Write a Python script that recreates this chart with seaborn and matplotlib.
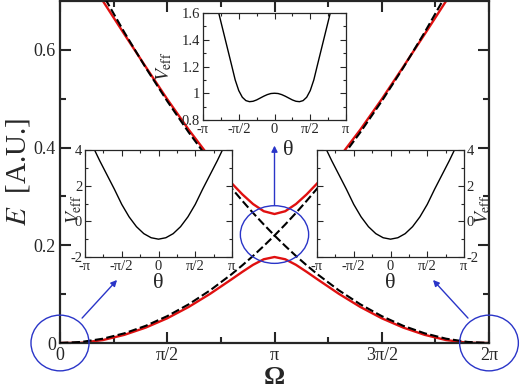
import numpy as np
import matplotlib
matplotlib.use("Agg")
import matplotlib.pyplot as plt
import seaborn as sns
from matplotlib.patches import Ellipse

# ---------------- data ----------------
# main panel: Omega in units of pi
omega_pi = [0.0, 0.1, 0.2, 0.3, 0.4, 0.5, 0.6, 0.7, 0.8, 0.85, 0.9, 0.95, 1.0,
            1.05, 1.1, 1.15, 1.2, 1.3, 1.4, 1.5, 1.6, 1.7, 1.8, 1.9, 2.0]
dash_rise = [0.0, 0.0022, 0.0088, 0.0198, 0.0352, 0.055, 0.0792, 0.1078, 0.1408, 0.159,
             0.1782, 0.1986, 0.22, 0.2426, 0.2662, 0.291, 0.3168, 0.3718, 0.4312, 0.495,
             0.5632, 0.6358, 0.7128, 0.7942, 0.88]
dash_fall = [0.88, 0.7942, 0.7128, 0.6358, 0.5632, 0.495, 0.4312, 0.3718, 0.3168, 0.291,
             0.2662, 0.2426, 0.22, 0.1986, 0.1782, 0.159, 0.1408, 0.1078, 0.0792, 0.055,
             0.0352, 0.0198, 0.0088, 0.0022, 0.0]
red_lower = [0.0, 0.0005, 0.006, 0.0167, 0.0316, 0.0506, 0.0738, 0.1007, 0.1304, 0.1456,
             0.16, 0.1714, 0.176, 0.1714, 0.16, 0.1456, 0.1304, 0.1007, 0.0738, 0.0506,
             0.0316, 0.0167, 0.006, 0.0005, 0.0]
red_upper = [0.85, 0.775, 0.70, 0.632, 0.565, 0.499, 0.4366, 0.3789, 0.3272, 0.3043,
             0.2844, 0.2697, 0.264, 0.2697, 0.2844, 0.3043, 0.3272, 0.3789, 0.4366, 0.499,
             0.565, 0.632, 0.70, 0.775, 0.85]

# top inset: double well, theta in units of pi
theta_dw = [-0.78, -0.72, -0.66, -0.6, -0.55, -0.5, -0.45, -0.4, -0.35, -0.3, -0.25,
            -0.2, -0.15, -0.1, -0.05, 0.0, 0.05, 0.1, 0.15, 0.2, 0.25, 0.3, 0.35, 0.4,
            0.45, 0.5, 0.55, 0.6, 0.66, 0.72, 0.78]
v_dw = [1.60, 1.47, 1.34, 1.21, 1.10, 1.02, 0.97, 0.945, 0.937, 0.94, 0.95,
        0.964, 0.978, 0.99, 0.998, 1.0, 0.998, 0.99, 0.978, 0.964, 0.95, 0.94, 0.937, 0.945,
        0.97, 1.02, 1.10, 1.21, 1.34, 1.47, 1.60]

# side insets: single well, theta in units of pi
theta_sw = [-0.87, -0.8, -0.7, -0.6, -0.5, -0.4, -0.3, -0.2, -0.1, 0.0,
            0.1, 0.2, 0.3, 0.4, 0.5, 0.6, 0.7, 0.8, 0.87]
v_sw = [4.0, 3.4, 2.6, 1.8, 0.95, 0.25, -0.30, -0.69, -0.92, -1.0,
        -0.92, -0.69, -0.30, 0.25, 0.95, 1.8, 2.6, 3.4, 4.0]

main_xticklabels = ["0", "π/2", "π", "3π/2", "2π"]
main_yticklabels = ["0", "0.2", "0.4", "0.6"]
inset_xticklabels = ["-π", "-π/2", "0", "π/2", "π"]
dw_yticklabels = ["0.8", "1", "1.2", "1.4", "1.6"]
sw_yticklabels = ["-2", "0", "2", "4"]

# ---------------- style ----------------
sns.set_style("ticks")
plt.rcParams["font.family"] = ["Liberation Serif", "DejaVu Serif"]
plt.rcParams["mathtext.fontset"] = "stix"

PI = np.pi
om = np.array(omega_pi) * PI

fig = plt.figure(figsize=(5.2, 3.9), dpi=100)
ax = fig.add_axes([60 / 520, 1 - 343 / 390, 429 / 520, 342 / 390])

sns.lineplot(x=om, y=dash_rise, ax=ax, color="black", lw=1.5,
             linestyle=(0, (4, 1.6)), sort=False, zorder=3)
sns.lineplot(x=om, y=dash_fall, ax=ax, color="black", lw=1.5,
             linestyle=(0, (4, 1.6)), sort=False, zorder=3)
sns.lineplot(x=om, y=red_lower, ax=ax, color="#e01010", lw=1.7, sort=False, zorder=2)
sns.lineplot(x=om, y=red_upper, ax=ax, color="#e01010", lw=1.7, sort=False, zorder=2)

ax.set_xlim(0, 2 * PI)
ax.set_ylim(0, 0.7)
ax.set_xticks([0, PI / 2, PI, 3 * PI / 2, 2 * PI])
ax.set_xticklabels(main_xticklabels)
ax.set_xticks(np.arange(1, 8, 2) * PI / 4, minor=True)
ax.set_yticks([0, 0.2, 0.4, 0.6])
ax.set_yticklabels(main_yticklabels)
ax.set_yticks([0.1, 0.3, 0.5], minor=True)
ax.tick_params(which="both", direction="in", top=True, right=True,
               labelsize=13, width=1.5, pad=3)
ax.tick_params(which="major", length=8)
ax.tick_params(which="minor", length=4.5)
for s in ax.spines.values():
    s.set_linewidth(1.6)
ax.set_xlabel("Ω", fontsize=19, fontweight="bold", va="baseline")
ax.xaxis.set_label_coords(0.5, -0.12)
ax.set_ylabel(r"$E$  [A.U.]", fontsize=21)
ax.yaxis.set_label_coords(-0.066, 0.5)

# blue circles and arrows
blue = "#2a35c8"
for (cx, cy, w, h) in [(0.0, 0.0, 0.85, 0.114), (PI, 0.222, 1.0, 0.118),
                       (2 * PI, 0.0, 0.86, 0.114)]:
    ax.add_patch(Ellipse((cx, cy), w, h, fill=False, ec=blue, lw=1.0,
                         clip_on=False, zorder=5))
arrow_kw = dict(arrowstyle="-|>", color=blue, lw=1.0, mutation_scale=9,
                shrinkA=0, shrinkB=0)
ax.annotate("", xy=(0.266 * PI, 0.129), xytext=(0.103 * PI, 0.051),
            arrowprops=arrow_kw, annotation_clip=False)
ax.annotate("", xy=(PI, 0.404), xytext=(PI, 0.282),
            arrowprops=arrow_kw, annotation_clip=False)
ax.annotate("", xy=(1.739 * PI, 0.129), xytext=(1.902 * PI, 0.051),
            arrowprops=arrow_kw, annotation_clip=False)


def style_inset(a, ylim, yticks, yminor, ylabels):
    a.set_xlim(-PI, PI)
    a.set_ylim(*ylim)
    a.set_xticks([-PI, -PI / 2, 0, PI / 2, PI])
    a.set_xticklabels(inset_xticklabels)
    a.set_xticks(np.array([-3, -1, 1, 3]) * PI / 4, minor=True)
    a.set_yticks(yticks)
    a.set_yticklabels(ylabels)
    a.set_yticks(yminor, minor=True)
    a.tick_params(which="both", direction="in", top=True, right=True,
                  left=True, bottom=True, labelsize=10.5, width=0.8, pad=2)
    a.tick_params(which="major", length=4)
    a.tick_params(which="minor", length=2)
    for s in a.spines.values():
        s.set_linewidth(0.9)
    a.set_facecolor("white")


# top inset
ax1 = fig.add_axes([203 / 520, 1 - 120 / 390, 143 / 520, 107 / 390])
sns.lineplot(x=np.array(theta_dw) * PI, y=v_dw, ax=ax1, color="black", lw=1.0, sort=False)
style_inset(ax1, (0.8, 1.6), [0.8, 1.0, 1.2, 1.4, 1.6], [0.9, 1.1, 1.3, 1.5], dw_yticklabels)
ax1.set_xlabel("θ", fontsize=16)
ax1.xaxis.set_label_coords(0.594, -0.2)
ax1.set_ylabel(r"$V_{\rm eff}$", fontsize=14)
ax1.yaxis.set_label_coords(-0.2, 0.5)

# left inset
ax2 = fig.add_axes([85 / 520, 1 - 257 / 390, 147 / 520, 107 / 390])
sns.lineplot(x=np.array(theta_sw) * PI, y=v_sw, ax=ax2, color="black", lw=1.0, sort=False)
style_inset(ax2, (-2, 4), [-2, 0, 2, 4], [-1, 1, 3], sw_yticklabels)
ax2.set_xlabel("θ", fontsize=16, labelpad=1)
ax2.set_ylabel(r"$V_{\rm eff}$", fontsize=14)
ax2.yaxis.set_label_coords(-0.01, 0.45)

# right inset
ax3 = fig.add_axes([317 / 520, 1 - 257 / 390, 147 / 520, 107 / 390])
sns.lineplot(x=np.array(theta_sw) * PI, y=v_sw, ax=ax3, color="black", lw=1.0, sort=False)
style_inset(ax3, (-2, 4), [-2, 0, 2, 4], [-1, 1, 3], sw_yticklabels)
ax3.tick_params(axis="y", labelleft=False, labelright=True)
ax3.set_xlabel("θ", fontsize=16, labelpad=1)
ax3.yaxis.set_label_position("right")
ax3.set_ylabel(r"$V_{\rm eff}$", fontsize=14, rotation=90)
ax3.yaxis.set_label_coords(1.06, 0.45)

fig.savefig("out.png", dpi=100)
